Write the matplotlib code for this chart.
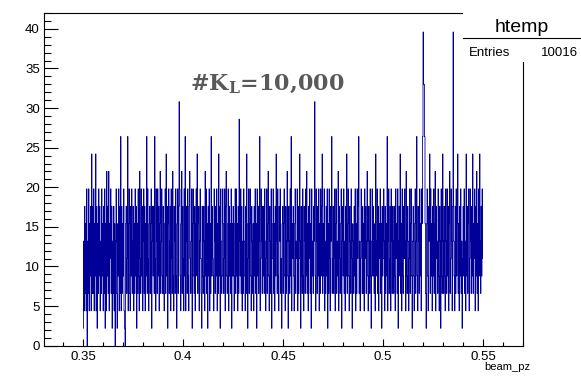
import numpy as np
import matplotlib
matplotlib.use("Agg")
import matplotlib.pyplot as plt
from matplotlib.ticker import MultipleLocator, FixedLocator
from matplotlib.patches import Rectangle

# histogram of beam_pz, 800 bins from 0.35 to 0.55, counts per bin
x_min, x_max, n_bins = 0.35, 0.55, 800
bin_weight = 2.2
counts = [
    1, 6, 2, 8, 3, 7, 2, 9, 0, 6, 3, 9, 2, 7, 4, 8, 2, 11, 3, 8,
    3, 9, 2, 7, 4, 11, 2, 8, 1, 7, 3, 9, 4, 8, 2, 6, 3, 9, 4, 7,
    2, 8, 3, 9, 1, 7, 2, 10, 4, 8, 3, 10, 2, 7, 5, 9, 3, 8, 1, 6,
    3, 8, 2, 7, 0, 6, 9, 3, 1, 7, 4, 9, 2, 8, 3, 12, 2, 8, 3, 7,
    4, 9, 2, 1, 0, 7, 8, 3, 5, 12, 2, 7, 9, 3, 2, 8, 4, 9, 3, 6,
    8, 2, 7, 3, 9, 4, 8, 1, 7, 3, 9, 4, 2, 10, 5, 3, 9, 4, 8, 2,
    6, 9, 3, 8, 2, 7, 4, 12, 3, 9, 5, 2, 7, 8, 3, 7, 9, 1, 6, 8,
    4, 8, 3, 12, 5, 2, 9, 6, 3, 9, 4, 8, 2, 7, 10, 3, 6, 9, 4, 3,
    8, 3, 2, 7, 9, 3, 11, 4, 8, 1, 7, 9, 3, 6, 8, 2, 9, 5, 3, 10,
    4, 2, 8, 6, 3, 9, 4, 1, 7, 9, 3, 8, 14, 9, 4, 2, 7, 10, 3, 8,
    5, 2, 9, 4, 12, 2, 8, 6, 3, 9, 4, 2, 8, 10, 5, 3, 6, 9, 1, 7,
    9, 4, 3, 8, 2, 7, 9, 4, 11, 3, 7, 8, 2, 6, 9, 5, 3, 1, 8, 4,
    3, 8, 6, 2, 10, 4, 9, 3, 7, 1, 8, 4, 9, 2, 7, 3, 12, 4, 8, 5,
    4, 2, 9, 6, 3, 8, 4, 9, 2, 7, 3, 11, 4, 8, 1, 9, 6, 3, 4, 9,
    7, 3, 5, 9, 2, 8, 10, 4, 3, 7, 9, 2, 8, 4, 7, 3, 9, 1, 7, 4,
    8, 4, 2, 7, 9, 3, 9, 4, 7, 2, 8, 3, 13, 6, 4, 9, 3, 8, 2, 6,
    3, 9, 6, 4, 2, 8, 3, 11, 7, 1, 5, 9, 3, 7, 9, 4, 2, 8, 6, 3,
    7, 2, 8, 4, 9, 3, 7, 1, 9, 4, 8, 3, 6, 12, 2, 5, 9, 6, 3, 8,
    4, 8, 3, 9, 6, 2, 5, 9, 3, 7, 10, 4, 2, 8, 6, 3, 9, 1, 5, 7,
    9, 3, 7, 2, 8, 4, 11, 6, 3, 9, 4, 2, 8, 6, 9, 3, 5, 1, 7, 8,
    3, 7, 9, 4, 2, 8, 3, 6, 10, 4, 1, 8, 6, 3, 9, 4, 12, 2, 7, 5,
    8, 4, 2, 7, 9, 3, 6, 5, 9, 2, 8, 3, 5, 11, 6, 1, 8, 4, 3, 9,
    4, 2, 8, 6, 3, 9, 4, 10, 3, 7, 2, 8, 5, 9, 3, 7, 1, 9, 4, 6,
    3, 8, 6, 14, 4, 2, 9, 6, 3, 8, 4, 9, 2, 7, 3, 9, 4, 8, 11, 3,
    7, 4, 9, 2, 6, 3, 8, 4, 9, 1, 7, 3, 9, 5, 2, 8, 6, 12, 3, 5,
    8, 3, 5, 9, 2, 7, 9, 3, 6, 4, 10, 2, 8, 5, 3, 7, 9, 1, 6, 8,
    4, 9, 3, 6, 2, 8, 4, 11, 3, 7, 9, 4, 2, 8, 6, 3, 9, 5, 1, 7,
    6, 3, 8, 4, 9, 2, 7, 3, 9, 5, 8, 12, 3, 6, 2, 5, 9, 6, 3, 8,
    3, 7, 2, 9, 5, 8, 3, 6, 10, 4, 2, 8, 6, 3, 9, 4, 1, 6, 9, 4,
    8, 4, 3, 7, 2, 11, 6, 4, 9, 3, 8, 2, 7, 5, 9, 3, 7, 1, 8, 4,
    5, 9, 6, 2, 8, 3, 7, 4, 12, 2, 6, 9, 3, 5, 8, 2, 9, 6, 3, 8,
    6, 3, 8, 4, 2, 9, 5, 7, 3, 9, 1, 6, 8, 4, 11, 3, 7, 2, 9, 4,
    3, 8, 5, 9, 6, 2, 10, 4, 3, 8, 6, 2, 5, 9, 3, 7, 9, 4, 1, 6,
    8, 4, 2, 7, 9, 3, 6, 12, 4, 2, 8, 6, 3, 9, 4, 7, 2, 9, 7, 12,
    18, 15, 15, 12, 7, 3, 1, 7, 9, 4, 2, 8, 6, 11, 3, 9, 4, 7, 2, 8,
    4, 9, 3, 7, 10, 2, 8, 5, 6, 3, 9, 4, 2, 8, 6, 1, 9, 4, 3, 11,
    6, 3, 8, 4, 2, 9, 6, 3, 9, 4, 8, 2, 7, 10, 3, 5, 9, 6, 2, 8,
    18, 6, 4, 2, 8, 3, 9, 4, 7, 11, 3, 7, 2, 8, 4, 9, 3, 6, 1, 5,
    8, 4, 9, 3, 6, 2, 11, 4, 8, 3, 7, 9, 2, 5, 9, 6, 3, 8, 4, 11,
    3, 7, 5, 9, 2, 8, 4, 10, 3, 7, 2, 9, 4, 11, 6, 3, 8, 4, 9, 5,
]
n_entries = 10016
hist_name = "htemp"
x_title = "beam_pz"
note = r"#K$_\mathregular{L}$=10,000"

plt.rcParams['font.family'] = ['Liberation Sans', 'DejaVu Sans']

edges = np.linspace(x_min, x_max, n_bins + 1)
heights = np.array(counts) * bin_weight

fig = plt.figure(figsize=(5.81, 3.77), dpi=100)
ax = fig.add_axes([44 / 581, 1 - 345.7 / 377, (523 - 44) / 581, (345.7 - 13) / 377])

ax.stairs(heights, edges, baseline=None, color='#000099', linewidth=0.6)

ax.set_xlim(0.3305, 0.570)
ax.set_ylim(0, 42)

ax.xaxis.set_major_locator(FixedLocator([0.35, 0.40, 0.45, 0.50, 0.55]))
ax.xaxis.set_minor_locator(MultipleLocator(0.01))
ax.set_xticklabels(['0.35', '0.4', '0.45', '0.5', '0.55'])
ax.yaxis.set_major_locator(MultipleLocator(5))
ax.yaxis.set_minor_locator(MultipleLocator(1))

ax.tick_params(axis='x', which='major', direction='in', length=5, width=0.8, labelsize=9.5, pad=4)
ax.tick_params(axis='x', which='minor', direction='in', length=3, width=0.8)
ax.tick_params(axis='y', which='major', direction='in', length=10, width=0.8, labelsize=9.5, pad=3)
ax.tick_params(axis='y', which='minor', direction='in', length=5, width=0.8)
for s in ax.spines.values():
    s.set_linewidth(0.8)

ax.text(0.4035, 32.2, note, fontsize=16, fontweight='bold', family='DejaVu Serif',
        color='#595959')

# axis title at the right end, ROOT style
fig.text(530 / 581, 1 - 370 / 377, x_title, ha='right', va='baseline', fontsize=8)

# stats box
fig.patches.append(Rectangle((463 / 581, 1 - 62 / 377), (581 - 463) / 581, 62 / 377,
                             transform=fig.transFigure, facecolor='white', edgecolor='none', zorder=5))
fig.lines.append(plt.Line2D([463 / 581, 1], [1 - 38 / 377, 1 - 38 / 377],
                            transform=fig.transFigure, color='black', lw=0.8, zorder=6))
fig.text(522 / 581, 1 - 32 / 377, hist_name, ha='center', va='baseline', fontsize=14, zorder=6)
fig.text(469 / 581, 1 - 56 / 377, "Entries", ha='left', va='baseline', fontsize=9.5, zorder=6)
fig.text(578 / 581, 1 - 56 / 377, str(n_entries), ha='right', va='baseline', fontsize=9.5, zorder=6)

fig.savefig('out.png', dpi=100)
